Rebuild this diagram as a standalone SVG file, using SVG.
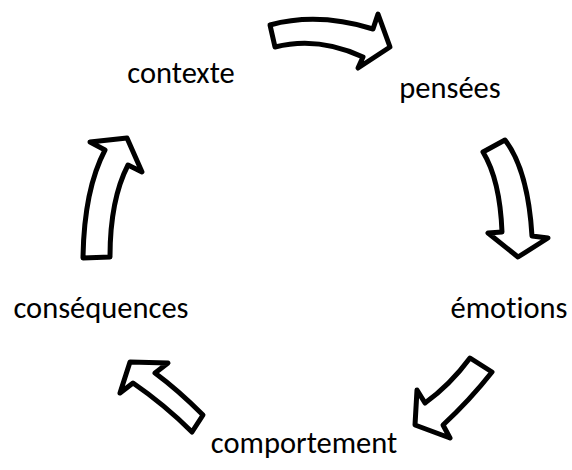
<svg xmlns="http://www.w3.org/2000/svg" width="572" height="470" viewBox="0 0 572 470">
<style>
.arrow{fill:#ffffff;stroke:#000000;stroke-width:5;stroke-linejoin:round}
.lbl{font-family:Carlito,Calibri,"Open Sans",sans-serif;font-size:30.5px;fill:#000000;text-anchor:middle;font-variant-ligatures:none;font-feature-settings:"liga" 0,"clig" 0}
</style>
<rect width="572" height="470" fill="#ffffff"/>
<g id="connectors">
<path class="arrow" d="M270,25 Q318,12 373,29 L378,14 L390,47 L358,68 L363,57 Q318,36 275,47 Z"/>
<path class="arrow" d="M483,152 L505,140 Q528,170 532,236 L548,238 L518,257 L488,233 L502,232 Q500,180 483,152 Z"/>
<path class="arrow" d="M470,358 L492,372 Q470,400 443,425 L450,438 L415,425 L417,390 L425,403 Q450,385 470,358 Z"/>
<path class="arrow" d="M192,432 L203,415 Q178,390 155,373 L168,363 L130,362 L120,393 L133,383 Q165,405 192,432 Z"/>
<path class="arrow" d="M83,258 L110,257 Q110,200 128,165 L142,172 L127,138 L90,142 L105,150 Q84,190 83,258 Z"/>
</g>
<g id="contexte"><text class="lbl" x="181" y="83">contexte</text></g>
<g id="pensees"><text class="lbl" x="450" y="98">pensées</text></g>
<g id="emotions"><text class="lbl" x="509" y="318">émotions</text></g>
<g id="comportement"><text class="lbl" x="304" y="453">comportement</text></g>
<g id="consequences"><text class="lbl" x="101" y="318">conséquences</text></g>
</svg>
